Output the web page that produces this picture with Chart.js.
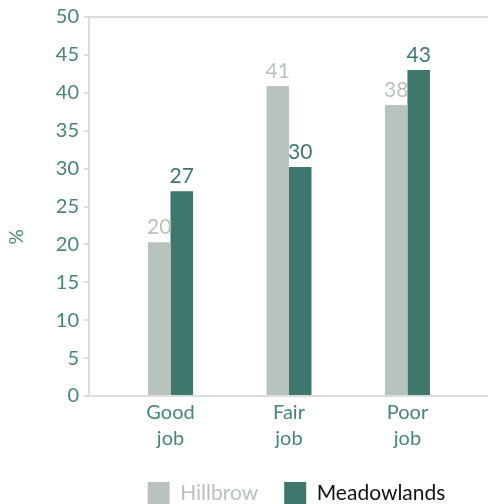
<!DOCTYPE html>
<html>
<head>
<meta charset="utf-8">
<script src="https://cdn.jsdelivr.net/npm/chart.js@4"></script>
<style>
  html, body { margin: 0; padding: 0; background: #fff; }
  #wrap { width: 488px; height: 504px; }
</style>
</head>
<body>
<div id="wrap"><canvas id="jobChart" width="488" height="504"></canvas></div>
<script>
// data
const categories = ['Good job', 'Fair job', 'Poor job'];
const hillbrow = [20.3, 40.9, 38.4];
const meadowlands = [27, 30.2, 43];
const yTicks = [0, 5, 10, 15, 20, 25, 30, 35, 40, 45, 50];

const lightColor = '#b9c3bd';
const darkColor = '#3e786c';
const tealText = '#468676';
const lineColor = '#dcdcdc';
const font = 'Lato, "Open Sans", sans-serif';

// value labels above each bar, plus the rotated % title
const valueLabels = {
    id: 'valueLabels',
    afterLayout(chart) {
        // nudge the legend a little right, like the original
        chart.legend.left += 8;
        chart.legend.right += 8;
    },
    afterDatasetsDraw(chart) {
        let ctx = chart.ctx;
        ctx.save();
        ctx.font = '21px ' + font;
        ctx.textAlign = 'center';
        ctx.textBaseline = 'alphabetic';
        chart.data.datasets.forEach((ds, i) => {
            let meta = chart.getDatasetMeta(i);
            ctx.fillStyle = ds.labelColor;
            meta.data.forEach((bar, j) => {
                ctx.fillText(Math.round(ds.data[j].y), bar.x, bar.y - 8);
            });
        });

        ctx.translate(17, 237);
        ctx.rotate(-Math.PI / 2);
        ctx.fillStyle = tealText;
        ctx.font = '19px ' + font;
        ctx.textBaseline = 'middle';
        ctx.fillText('%', 0, 0);
        ctx.restore();
    }
};

new Chart(document.getElementById('jobChart'), {
    type: 'bar',
    data: {
        datasets: [{
            label: 'Hillbrow',
            data: hillbrow.map((v, i) => ({x: i, y: v})),
            backgroundColor: lightColor,
            labelColor: lightColor,
            categoryPercentage: 0.38,
            barPercentage: 1
        }, {
            label: 'Meadowlands',
            data: meadowlands.map((v, i) => ({x: i, y: v})),
            backgroundColor: darkColor,
            labelColor: darkColor,
            categoryPercentage: 0.38,
            barPercentage: 1
        }]
    },
    options: {
        responsive: false,
        animation: false,
        layout: { padding: { top: 8, right: 0, left: 0, bottom: -10 } },
        plugins: {
            tooltip: { enabled: false },
            legend: {
                position: 'bottom',
                fullSize: false,
                labels: {
                    boxWidth: 22,
                    boxHeight: 22,
                    padding: 26,
                    font: { family: font, size: 21 },
                    generateLabels(chart) {
                        return chart.data.datasets.map((ds, i) => ({
                            text: ds.label,
                            fillStyle: ds.backgroundColor,
                            strokeStyle: ds.backgroundColor,
                            lineWidth: 0,
                            fontColor: i === 0 ? lightColor : '#111',
                            datasetIndex: i
                        }));
                    }
                }
            }
        },
        scales: {
            x: {
                type: 'linear',
                offset: false,
                min: -0.688,
                max: 2.68,
                afterBuildTicks(scale) {
                    scale.ticks = categories.map((c, i) => ({value: i}));
                },
                afterFit(scale) {
                    scale.height = 60;
                },
                ticks: {
                    color: tealText,
                    font: { family: font, size: 20, lineHeight: 1.3 },
                    padding: 4,
                    callback: (v) => categories[v] ? categories[v].split(' ') : ''
                },
                grid: { color: 'transparent', drawTicks: false },
                border: { color: lineColor, width: 2 }
            },
            y: {
                min: 0,
                max: 50,
                afterBuildTicks(scale) {
                    scale.ticks = yTicks.map(v => ({value: v}));
                },
                afterFit(scale) {
                    scale.width = 89;
                },
                ticks: {
                    color: tealText,
                    font: { family: font, size: 20 },
                    padding: 5
                },
                grid: {
                    color: (c) => c.tick && c.tick.value === 50 ? lineColor : 'transparent',
                    tickColor: lineColor,
                    tickLength: 5,
                    lineWidth: 2
                },
                border: { color: lineColor, width: 2 }
            }
        }
    },
    plugins: [valueLabels]
});
</script>
</body>
</html>
